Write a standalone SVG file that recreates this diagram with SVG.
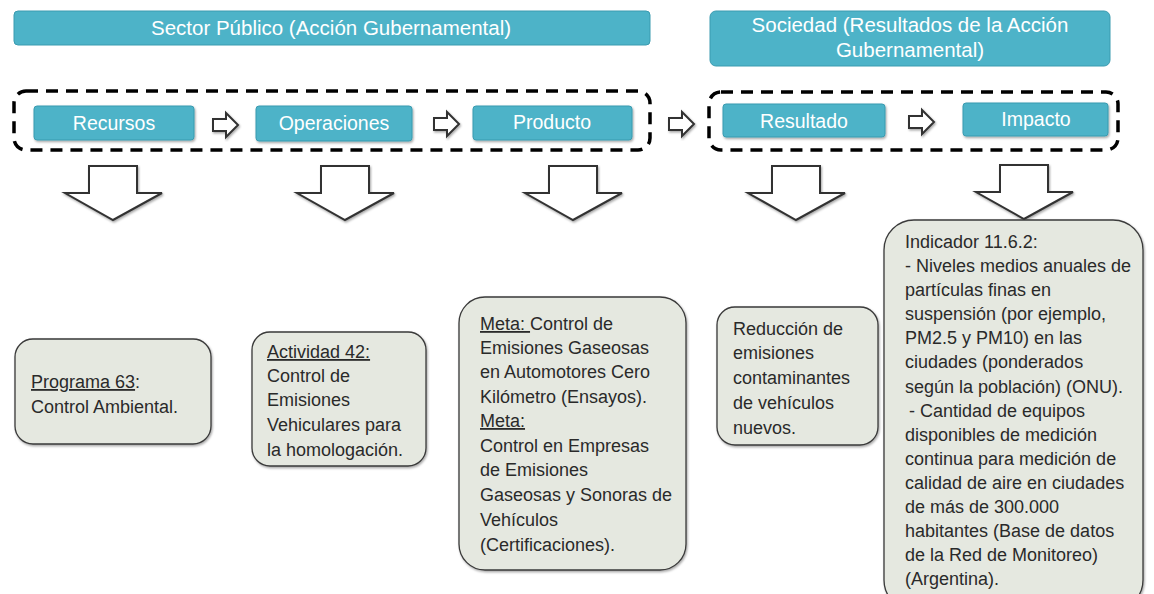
<svg xmlns="http://www.w3.org/2000/svg" width="1154" height="594" viewBox="0 0 1154 594">
<style>
.ban{fill:#4db3c8;stroke:#3a9bb0;stroke-width:1}
.bt{font-family:"Liberation Sans",Arial,sans-serif;font-size:20.5px;fill:#fff;text-anchor:middle}
.st{font-family:"Liberation Sans",Arial,sans-serif;font-size:19.5px;fill:#fff;text-anchor:middle}
.dash{fill:none;stroke:#000;stroke-width:3.5;stroke-dasharray:12 8}
.card{fill:#e5e8e0;stroke:#3a3a3a;stroke-width:1.3}
.ct{font-family:"Liberation Sans",Arial,sans-serif;font-size:18px;fill:#2a2a2a}
.arr{fill:#fff;stroke:#333;stroke-width:2;stroke-linejoin:miter}
</style>
<defs>
<filter id="sh" x="-20%" y="-20%" width="140%" height="140%">
<feDropShadow dx="1" dy="1.5" stdDeviation="1.2" flood-color="#000" flood-opacity="0.35"/>
</filter>
<path id="ra" d="M0,6 H13 V0 L25,12 L13,24 V18 H0 Z"/>
<path id="da" d="M24,0 H72 V27 H97 L48,54 L0,27 H24 Z"/>
</defs>

<g id="banner-sector">
<rect class="ban" x="14" y="11" width="636" height="34" rx="4"/>
<text class="bt" x="331" y="35">Sector Público (Acción Gubernamental)</text>
</g>
<g id="banner-sociedad">
<rect class="ban" x="710" y="11" width="400" height="55" rx="6"/>
<text class="bt" x="910" y="32">Sociedad (Resultados de la Acción</text>
<text class="bt" x="910" y="57">Gubernamental)</text>
</g>

<g id="group-publico"><rect class="dash" x="14" y="91" width="636" height="59" rx="12"/></g>
<g id="group-sociedad"><rect class="dash" x="709" y="92" width="409" height="58" rx="12"/></g>

<g id="recursos"><rect class="ban" x="34" y="106" width="160" height="34" rx="3" filter="url(#sh)"/><text class="st" x="114" y="130">Recursos</text></g>
<g id="operaciones"><rect class="ban" x="256" y="106" width="156" height="35" rx="3" filter="url(#sh)"/><text class="st" x="334" y="130">Operaciones</text></g>
<g id="producto"><rect class="ban" x="473" y="106" width="159" height="34" rx="3" filter="url(#sh)"/><text class="st" x="552" y="129">Producto</text></g>
<g id="resultado"><rect class="ban" x="723" y="104" width="162" height="33" rx="3" filter="url(#sh)"/><text class="st" x="804" y="128">Resultado</text></g>
<g id="impacto"><rect class="ban" x="963" y="103" width="145" height="33" rx="3" filter="url(#sh)"/><text class="st" x="1036" y="126">Impacto</text></g>

<g id="connectors">
<use href="#ra" class="arr" x="213" y="113" filter="url(#sh)"/>
<use href="#ra" class="arr" x="434" y="112" filter="url(#sh)"/>
<use href="#ra" class="arr" x="669" y="112" filter="url(#sh)"/>
<use href="#ra" class="arr" x="909" y="110" filter="url(#sh)"/>
<use href="#da" class="arr" x="65" y="166" filter="url(#sh)"/>
<use href="#da" class="arr" x="297" y="166" filter="url(#sh)"/>
<use href="#da" class="arr" x="525" y="166" filter="url(#sh)"/>
<use href="#da" class="arr" x="748" y="166" filter="url(#sh)"/>
<use href="#da" class="arr" x="976" y="165" filter="url(#sh)"/>
</g>

<g id="programa">
<rect class="card" x="15" y="339" width="196" height="105" rx="18" filter="url(#sh)"/>
<text class="ct" x="31" y="388"><tspan text-decoration="underline">Programa 63</tspan>:</text>
<text class="ct" x="31" y="413">Control Ambiental.</text>
</g>

<g id="actividad">
<rect class="card" x="252" y="332" width="174" height="134" rx="18" filter="url(#sh)"/>
<text class="ct" x="267" y="358"><tspan text-decoration="underline">Actividad 42:</tspan></text>
<text class="ct" x="267" y="382">Control de</text>
<text class="ct" x="267" y="406">Emisiones</text>
<text class="ct" x="267" y="431">Vehiculares para</text>
<text class="ct" x="267" y="456">la homologación.</text>
</g>

<g id="meta">
<rect class="card" x="459" y="297" width="227" height="273" rx="26" filter="url(#sh)"/>
<text class="ct" x="480" y="330"><tspan text-decoration="underline">Meta: </tspan>Control de</text>
<text class="ct" x="480" y="354">Emisiones Gaseosas</text>
<text class="ct" x="480" y="378">en Automotores Cero</text>
<text class="ct" x="480" y="403">Kilómetro (Ensayos).</text>
<text class="ct" x="480" y="427"><tspan text-decoration="underline">Meta:</tspan></text>
<text class="ct" x="480" y="452">Control en Empresas</text>
<text class="ct" x="480" y="476">de Emisiones</text>
<text class="ct" x="480" y="501">Gaseosas y Sonoras de</text>
<text class="ct" x="480" y="526">Vehículos</text>
<text class="ct" x="480" y="551">(Certificaciones).</text>
</g>

<g id="reduccion">
<rect class="card" x="717" y="307" width="161" height="138" rx="18" filter="url(#sh)"/>
<text class="ct" x="733" y="335">Reducción de</text>
<text class="ct" x="733" y="359">emisiones</text>
<text class="ct" x="733" y="384">contaminantes</text>
<text class="ct" x="733" y="409">de vehículos</text>
<text class="ct" x="733" y="434">nuevos.</text>
</g>

<g id="indicador">
<rect class="card" x="884" y="220" width="259" height="390" rx="30" filter="url(#sh)"/>
<text class="ct" x="905" y="248">Indicador 11.6.2:</text>
<text class="ct" x="905" y="272">- Niveles medios anuales de</text>
<text class="ct" x="905" y="296">partículas finas en</text>
<text class="ct" x="905" y="320">suspensión (por ejemplo,</text>
<text class="ct" x="905" y="344">PM2.5 y PM10) en las</text>
<text class="ct" x="905" y="368">ciudades (ponderados</text>
<text class="ct" x="905" y="393">según la población) (ONU).</text>
<text class="ct" x="909" y="417">- Cantidad de equipos</text>
<text class="ct" x="905" y="441">disponibles de medición</text>
<text class="ct" x="905" y="465">continua para medición de</text>
<text class="ct" x="905" y="489">calidad de aire en ciudades</text>
<text class="ct" x="905" y="513">de más de 300.000</text>
<text class="ct" x="905" y="537">habitantes (Base de datos</text>
<text class="ct" x="905" y="561">de la Red de Monitoreo)</text>
<text class="ct" x="905" y="585">(Argentina).</text>
</g>
</svg>
